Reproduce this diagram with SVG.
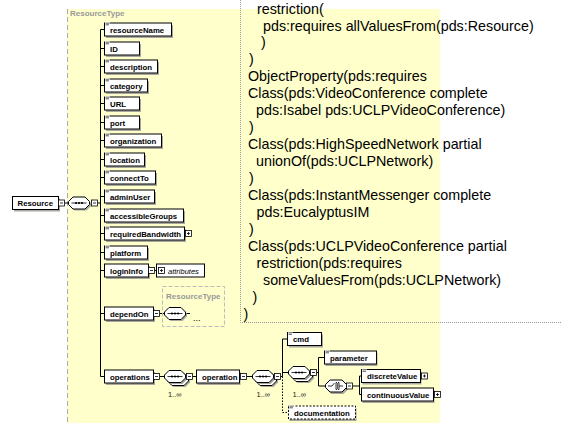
<svg xmlns="http://www.w3.org/2000/svg" xmlns:xlink="http://www.w3.org/1999/xlink" width="562" height="423" viewBox="0 0 562 423">
<style>
.bx{fill:#fff;stroke:#000;stroke-width:1}
.sh{fill:#a8a8a0}
.lb{font-family:"Liberation Sans",Arial,sans-serif;font-weight:bold;font-size:7.8px;fill:#000}
.ln{stroke:#000;stroke-width:1;fill:none}
.dl{stroke:#000;stroke-width:1;fill:none;stroke-dasharray:1.5,1.5}
.gl{font-family:"Liberation Sans",Arial,sans-serif;font-weight:bold;font-size:8px;fill:#999}
.sm{font-family:"Liberation Sans",Arial,sans-serif;font-size:7.5px;fill:#222}
.tx{font-family:"Liberation Sans",Arial,sans-serif;font-size:14.3px;fill:#000}
</style>
<defs>
<g id="eq"><rect x="0.5" y="-1" width="4.5" height="4" fill="#fff"/><path d="M1 0.2H4.5M1 1.8H4.5" stroke="#333" stroke-width="0.8"/></g>
<g id="minus"><rect x="0.5" y="0.5" width="6" height="6" fill="#fff" stroke="#000" stroke-width="0.8"/><path d="M2 3.5H5" stroke="#000" stroke-width="0.8"/></g>
<g id="plus"><rect x="0.5" y="0.5" width="6" height="6" fill="#fff" stroke="#000" stroke-width="0.8"/><path d="M2 3.5H5M3.5 2V5" stroke="#000" stroke-width="0.8"/></g>
<path id="oct" d="M5,0.5 H17 L21.5,5 V8 L17,12.5 H5 L0.5,8 V5 Z"/>
<g id="seq"><use href="#oct" x="1.5" y="1.5" fill="#a8a8a0"/><use href="#oct" fill="#fff" stroke="#000"/><path d="M3.5 6.5H18.5" stroke="#000" stroke-width="0.8"/><circle cx="8" cy="6.5" r="1.1"/><circle cx="11" cy="6.5" r="1.1"/><circle cx="14" cy="6.5" r="1.1"/></g>
<g id="seqm"><use href="#oct" x="4.5" y="4.5" fill="#a8a8a0"/><use href="#oct" x="3" y="3" fill="#fff" stroke="#000"/><use href="#seq"/></g>
</defs>

<!-- background complex type region -->
<rect x="67" y="9" width="373" height="414" fill="#ffffcc"/>
<path d="M67.5 9V423" stroke="#aaa" stroke-dasharray="5,3"/>
<text class="gl" x="70" y="16">ResourceType</text>

<!-- text box -->
<g id="owl-text">
<path d="M240.5 -2V322.5H564" fill="none" stroke="#999" stroke-dasharray="1,1"/>
<text class="tx" x="257" y="13.5">restriction(</text>
<text class="tx" x="263" y="30.5">pds:requires allValuesFrom(pds:Resource)</text>
<text class="tx" x="261" y="47.4">)</text>
<text class="tx" x="249" y="64.4">)</text>
<text class="tx" x="248" y="81.3">ObjectProperty(pds:requires</text>
<text class="tx" x="248" y="98.3">Class(pds:VideoConference complete</text>
<text class="tx" x="256" y="115.2">pds:Isabel pds:UCLPVideoConference)</text>
<text class="tx" x="249" y="132.2">)</text>
<text class="tx" x="248" y="149.1">Class(pds:HighSpeedNetwork partial</text>
<text class="tx" x="256" y="166.1">unionOf(pds:UCLPNetwork)</text>
<text class="tx" x="249" y="183">)</text>
<text class="tx" x="248" y="200">Class(pds:InstantMessenger complete</text>
<text class="tx" x="256.5" y="216.9">pds:EucalyptusIM</text>
<text class="tx" x="249" y="233.9">)</text>
<text class="tx" x="248" y="250.8">Class(pds:UCLPVideoConference partial</text>
<text class="tx" x="256.5" y="267.8">restriction(pds:requires</text>
<text class="tx" x="263" y="284.7">someValuesFrom(pds:UCLPNetwork)</text>
<text class="tx" x="252.5" y="301.7">)</text>
<text class="tx" x="243.5" y="318.6">)</text>
</g>

<!-- connectors -->
<g id="connectors">
<path class="ln" d="M64.5 203H68"/>
<path class="ln" d="M97.5 203H100.5"/>
<path class="ln" d="M100.5 29.5V376.5"/>
<path class="ln" d="M100.5 29.5H104M100.5 48.5H104M100.5 66.5H104M100.5 85.5H104M100.5 103.5H104M100.5 122.5H104M100.5 140.5H104M100.5 159.5H104M100.5 177.5H104M100.5 196.5H104M100.5 215.5H104M100.5 233.5H104M100.5 252.5H104M100.5 270.5H104M100.5 313.5H104M100.5 376.5H104"/>
<path class="ln" d="M154.5 270.5H156.5"/>
<path class="ln" d="M159.5 313.5H164"/>
<path class="ln" d="M186 313.5H190"/>
<path class="ln" d="M159.5 376.5H164"/>
<path class="ln" d="M192.5 376.5H196"/>
<path class="ln" d="M246.5 376.5H252"/>
<path class="ln" d="M280.5 376.5H282.5"/>
<path class="ln" d="M282.5 339H287M282.5 339V376.5M282.5 372.5H288"/>
<path class="dl" d="M282.5 376.5V412.5H288"/>
<path class="ln" d="M316.5 372.5H318.5M318.5 357.5V386M318.5 357.5H324M318.5 386H325"/>
<path class="ln" d="M352.5 386H359.5M359.5 376H361M359.5 376V394.5H361"/>
</g>

<!-- Resource -->
<g id="n-Resource">
<rect class="sh" x="14" y="198.5" width="46" height="13"/>
<rect class="bx" x="12.5" y="196.5" width="46" height="13"/>
<text class="lb" x="17.5" y="206">Resource</text>
<use href="#minus" x="58" y="199.5"/>
</g>
<g id="n-seq1"><use href="#seq" x="68" y="196.5"/><use href="#minus" x="91" y="199.5"/></g>

<!-- simple elements -->
<g id="n-resourceName"><rect class="sh" x="106" y="25" width="67" height="13"/><rect class="bx" x="104.5" y="23" width="67" height="13"/><use href="#eq" x="104.5" y="23"/><text class="lb" x="110" y="32.5">resourceName</text></g>
<g id="n-ID"><rect class="sh" x="106" y="44" width="35" height="13"/><rect class="bx" x="104.5" y="42" width="35" height="13"/><use href="#eq" x="104.5" y="42"/><text class="lb" x="110" y="51.5">ID</text></g>
<g id="n-description"><rect class="sh" x="106" y="62" width="53" height="13"/><rect class="bx" x="104.5" y="60" width="53" height="13"/><use href="#eq" x="104.5" y="60"/><text class="lb" x="110" y="69.5">description</text></g>
<g id="n-category"><rect class="sh" x="106" y="81" width="43" height="13"/><rect class="bx" x="104.5" y="79" width="43" height="13"/><use href="#eq" x="104.5" y="79"/><text class="lb" x="110" y="88.5">category</text></g>
<g id="n-URL"><rect class="sh" x="106" y="99" width="35" height="13"/><rect class="bx" x="104.5" y="97" width="35" height="13"/><use href="#eq" x="104.5" y="97"/><text class="lb" x="110" y="106.5">URL</text></g>
<g id="n-port"><rect class="sh" x="106" y="118" width="35" height="13"/><rect class="bx" x="104.5" y="116" width="35" height="13"/><use href="#eq" x="104.5" y="116"/><text class="lb" x="110" y="125.5">port</text></g>
<g id="n-organization"><rect class="sh" x="106" y="136" width="57" height="13"/><rect class="bx" x="104.5" y="134" width="57" height="13"/><use href="#eq" x="104.5" y="134"/><text class="lb" x="110" y="143.5">organization</text></g>
<g id="n-location"><rect class="sh" x="106" y="155" width="40" height="13"/><rect class="bx" x="104.5" y="153" width="40" height="13"/><use href="#eq" x="104.5" y="153"/><text class="lb" x="110" y="162.5">location</text></g>
<g id="n-connectTo"><rect class="sh" x="106" y="173" width="51" height="13"/><rect class="bx" x="104.5" y="171" width="51" height="13"/><use href="#eq" x="104.5" y="171"/><text class="lb" x="110" y="180.5">connectTo</text></g>
<g id="n-adminUser"><rect class="sh" x="106" y="192" width="50" height="13"/><rect class="bx" x="104.5" y="190" width="50" height="13"/><use href="#eq" x="104.5" y="190"/><text class="lb" x="110" y="199.5">adminUser</text></g>
<g id="n-accessibleGroups"><rect class="sh" x="106" y="211" width="79" height="13"/><rect class="bx" x="104.5" y="209" width="79" height="13"/><use href="#eq" x="104.5" y="209"/><text class="lb" x="110" y="218.5">accessibleGroups</text></g>
<g id="n-requiredBandwidth"><rect class="sh" x="106" y="229" width="80" height="13"/><rect class="bx" x="104.5" y="227" width="80" height="13"/><use href="#eq" x="104.5" y="227"/><text class="lb" x="110" y="236.5">requiredBandwidth</text><use href="#plus" x="185" y="230"/></g>
<g id="n-platform"><rect class="sh" x="106" y="248" width="43" height="13"/><rect class="bx" x="104.5" y="246" width="43" height="13"/><use href="#eq" x="104.5" y="246"/><text class="lb" x="110" y="255.5">platform</text></g>

<g id="n-loginInfo"><rect class="sh" x="106" y="266" width="44" height="13"/><rect class="bx" x="104.5" y="264" width="44" height="13"/><text class="lb" x="110" y="273.5">loginInfo</text><use href="#minus" x="148" y="267"/></g>
<g id="n-attributes"><rect class="bx" x="156.5" y="264" width="48" height="13"/><use href="#plus" x="158" y="267"/><text x="168" y="273.5" font-family="'Liberation Sans',Arial,sans-serif" font-style="italic" font-size="7.5" fill="#000">attributes</text></g>

<g id="n-dependOn"><rect class="sh" x="106" y="309" width="49" height="13"/><rect class="bx" x="104.5" y="307" width="49" height="13"/><text class="lb" x="110" y="316.5">dependOn</text><use href="#minus" x="153" y="310"/></g>
<g id="n-ResourceTypeRef">
<rect x="162.5" y="286.5" width="62" height="40" fill="none" stroke="#bbb" stroke-dasharray="4,2"/>
<text class="gl" x="166" y="299">ResourceType</text>
<use href="#seq" x="164" y="307"/>
<text x="193" y="321" font-family="'Liberation Sans',Arial,sans-serif" font-size="9" fill="#000">...</text>
</g>

<g id="n-operations"><rect class="sh" x="106" y="372" width="49" height="13"/><rect class="bx" x="104.5" y="370" width="49" height="13"/><text class="lb" x="110" y="379.5">operations</text><use href="#minus" x="153" y="373"/></g>
<g id="n-seq2"><use href="#seqm" x="164" y="370"/><use href="#minus" x="186" y="373"/><text class="sm" x="168" y="397">1..∞</text></g>
<g id="n-operation"><rect class="sh" x="197.5" y="372" width="43" height="13"/><rect class="bx" x="196.5" y="370" width="43" height="13"/><text class="lb" x="202" y="379.5">operation</text><use href="#minus" x="240" y="373"/></g>
<g id="n-seq3"><use href="#seqm" x="252" y="370"/><use href="#minus" x="274" y="373"/><text class="sm" x="256.5" y="397">1..∞</text></g>
<g id="n-cmd"><rect class="sh" x="289" y="334.5" width="34" height="13"/><rect class="bx" x="287.5" y="332.5" width="34" height="13"/><use href="#eq" x="287.5" y="332.5"/><text class="lb" x="293" y="342">cmd</text></g>
<g id="n-seq4"><use href="#seqm" x="288" y="366"/><use href="#minus" x="310" y="369"/><text class="sm" x="292.5" y="397">1..∞</text></g>
<g id="n-parameter"><rect class="sh" x="325.5" y="353" width="52" height="13"/><rect class="bx" x="324.5" y="351" width="52" height="13"/><use href="#eq" x="324.5" y="351"/><text class="lb" x="330" y="360.5">parameter</text></g>
<g id="n-choice">
<use href="#oct" x="326.5" y="381.5" fill="#a8a8a0"/><use href="#oct" x="325" y="379.5" fill="#fff" stroke="#000"/>
<path d="M328 386H332L334.5 383M336 382.5V389.5M339 382.5V389.5M336 382.5H337M336 389.5H337M339 382.5H338M339 389.5H338M339 386H343" stroke="#000" stroke-width="0.8" fill="none"/>
<circle cx="337.5" cy="384" r="0.7"/><circle cx="337.5" cy="386" r="0.7"/><circle cx="337.5" cy="388" r="0.7"/>
<use href="#minus" x="346" y="382.5"/>
</g>
<g id="n-discreteValue"><rect class="sh" x="362.5" y="371.5" width="59" height="13"/><rect class="bx" x="361.5" y="369.5" width="59" height="13"/><use href="#eq" x="361.5" y="369.5"/><text class="lb" x="367" y="379">discreteValue</text><use href="#plus" x="421" y="372.5"/></g>
<g id="n-continuousValue"><rect class="sh" x="362.5" y="390" width="72" height="13"/><rect class="bx" x="361.5" y="388" width="72" height="13"/><text class="lb" x="367" y="397.5">continuousValue</text><use href="#plus" x="434" y="391"/></g>
<g id="n-documentation"><rect class="sh" x="289.5" y="408" width="67" height="13"/><rect x="288.5" y="406" width="67" height="13" fill="#fff" stroke="#000" stroke-dasharray="2,1.5"/><use href="#eq" x="288.5" y="406"/><text class="lb" x="294" y="415.5">documentation</text></g>
</svg>
